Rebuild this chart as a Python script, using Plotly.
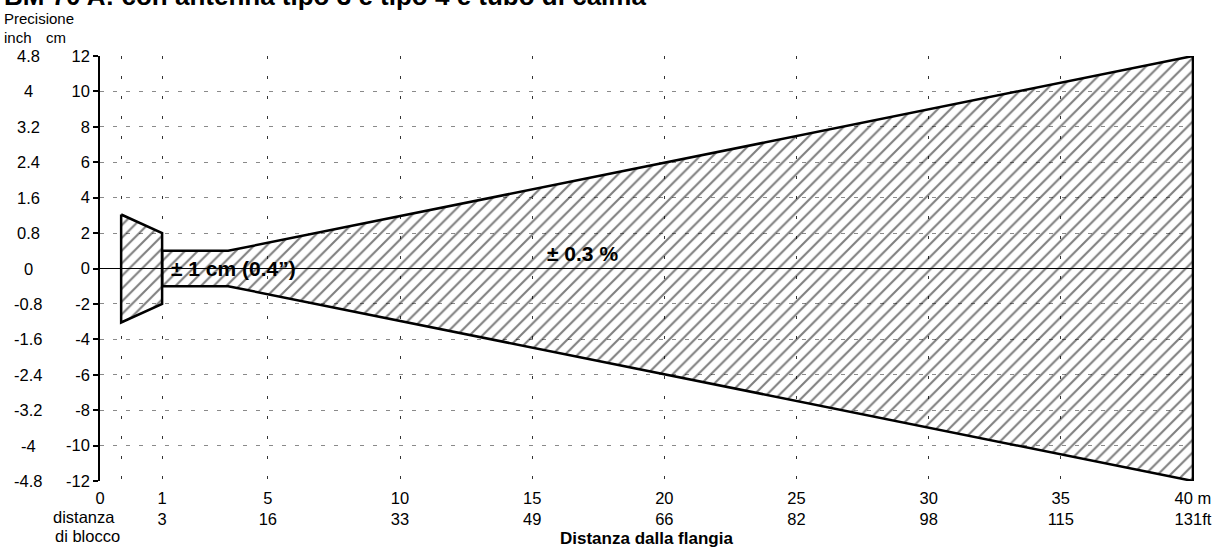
import plotly.graph_objects as go

# ---------------- data ----------------
# blocking zone trapezoid (drawn left of the 1 m mark)
block_x = [-0.55, 1.0]          # m (schematic position)
block_half = [3.05, 2.0]        # cm, half width of band

# accuracy envelope: +/-1 cm up to ~3.5 m, then +/-0.3 % of distance
prof_x = [1.0, 3.5, 40.0]       # m
prof_half = [1.0, 1.0, 12.0]    # cm

# axis ticks
x_tick_m = [1, 5, 10, 15, 20, 25, 30, 35, 40]
x_tick_ft = [3, 16, 33, 49, 66, 82, 98, 115, 131]
y_tick_cm = [12, 10, 8, 6, 4, 2, 0, -2, -4, -6, -8, -10, -12]
y_tick_inch = ["4.8", "4", "3.2", "2.4", "1.6", "0.8", "0", "-0.8", "-1.6", "-2.4", "-3.2", "-4", "-4.8"]

title_text = "BM 70 A: con antenna tipo 3 e tipo 4 e tubo di calma"
x_title = "Distanza dalla flangia"

# ---------------- layout constants ----------------
W, H = 1225, 548
ML, MR, MT, MB = 100, 31, 56, 67
X_RANGE = [-1.35, 40.04]
Y_RANGE = [-12, 12]
PW = W - ML - MR
PH = H - MT - MB
FONT = "Liberation Sans, Arial, sans-serif"
TICK_SIZE = 16.5
BOLD_SIZE = 21


def px_x(p):
    return (p - ML) / PW


def px_y(p):
    return (H - MB - p) / PH


fig = go.Figure()

pattern = dict(shape="/", fgcolor="black", bgcolor="rgba(0,0,0,0)", size=9, solidity=0.23)

# blocking zone polygon
bx = [block_x[0], block_x[1], block_x[1], block_x[0], block_x[0]]
by = [block_half[0], block_half[1], -block_half[1], -block_half[0], block_half[0]]
fig.add_trace(go.Scatter(x=bx, y=by, mode="lines", fill="toself",
                         fillcolor="rgba(0,0,0,0)", fillpattern=pattern,
                         line=dict(color="black", width=2.5), hoverinfo="skip",
                         showlegend=False))

# accuracy envelope polygon
ex = prof_x + prof_x[::-1] + [prof_x[0]]
ey = prof_half + [-v for v in prof_half[::-1]] + [prof_half[0]]
fig.add_trace(go.Scatter(x=ex, y=ey, mode="lines", fill="toself",
                         fillcolor="rgba(0,0,0,0)", fillpattern=pattern,
                         line=dict(color="black", width=2.5), hoverinfo="skip",
                         showlegend=False))

# x ticks
tickvals = [X_RANGE[0], block_x[0]] + x_tick_m
ticktext = ["0", ""]
for m, ft in zip(x_tick_m, x_tick_ft):
    if m == x_tick_m[-1]:
        ticktext.append(f"{m} m<br>{ft}ft")
    else:
        ticktext.append(f"{m}<br>{ft}")

annotations = [
    # page title (its upper part falls outside the page, as in the original)
    dict(x=px_x(2), xref="paper", y=px_y(-4), yref="paper", text=f"<b>{title_text}</b>",
         showarrow=False, xanchor="left", yanchor="middle",
         font=dict(size=26, color="black", family=FONT)),
    # x axis title
    dict(x=px_x(646), xref="paper", y=px_y(538), yref="paper", text=f"<b>{x_title}</b>",
         showarrow=False, xanchor="center", yanchor="middle",
         font=dict(size=17, color="black", family=FONT)),
]
# inch labels
for cm, inch in zip(y_tick_cm, y_tick_inch):
    annotations.append(dict(x=px_x(28), xref="paper", y=cm, yref="y", text=inch,
                            showarrow=False, xanchor="center", yanchor="middle",
                            font=dict(size=TICK_SIZE, color="black", family=FONT)))
annotations += [
    dict(x=px_x(2), xref="paper", y=px_y(18), yref="paper", text="Precisione",
         showarrow=False, xanchor="left", yanchor="middle",
         font=dict(size=15, color="black", family=FONT)),
    dict(x=px_x(2), xref="paper", y=px_y(37), yref="paper", text="inch",
         showarrow=False, xanchor="left", yanchor="middle",
         font=dict(size=15, color="black", family=FONT)),
    dict(x=px_x(44), xref="paper", y=px_y(37), yref="paper", text="cm",
         showarrow=False, xanchor="left", yanchor="middle",
         font=dict(size=15, color="black", family=FONT)),
    dict(x=px_x(51), xref="paper", y=px_y(517), yref="paper", text="distanza",
         showarrow=False, xanchor="left", yanchor="middle",
         font=dict(size=TICK_SIZE, color="black", family=FONT)),
    dict(x=px_x(53), xref="paper", y=px_y(536), yref="paper", text="di blocco",
         showarrow=False, xanchor="left", yanchor="middle",
         font=dict(size=TICK_SIZE, color="black", family=FONT)),
    dict(x=1.25, xref="x", y=0, yref="y", text="± 1 cm (0.4”)",
         showarrow=False, xanchor="left", yanchor="middle",
         font=dict(size=BOLD_SIZE, color="black", family=FONT, weight="bold")),
    dict(x=16.9, xref="x", y=0.85, yref="y", text="± 0.3 %",
         showarrow=False, xanchor="center", yanchor="middle",
         font=dict(size=BOLD_SIZE, color="black", family=FONT, weight="bold")),
]

fig.update_layout(
    width=W, height=H,
    margin=dict(l=ML, r=MR, t=MT, b=MB, pad=0, autoexpand=False),
    paper_bgcolor="white", plot_bgcolor="white",
    font=dict(family=FONT, color="black", size=TICK_SIZE),
    showlegend=False,
    annotations=annotations,
    xaxis=dict(range=X_RANGE, tickmode="array", tickvals=tickvals, ticktext=ticktext,
               showgrid=True, gridcolor="#333333", griddash="3px,17px", gridwidth=1,
               zeroline=False, showline=False, ticks="", ticklabelstandoff=5,
               automargin=False,
               tickfont=dict(size=TICK_SIZE, color="black", family=FONT),
               fixedrange=True),
    yaxis=dict(range=Y_RANGE, tickmode="array", tickvals=y_tick_cm,
               ticktext=[str(v) for v in y_tick_cm],
               showgrid=True, gridcolor="#8a8a8a", griddash="4px,9px", gridwidth=1,
               zeroline=True, zerolinecolor="black", zerolinewidth=1,
               showline=True, linecolor="black", linewidth=1.5,
               ticks="outside", ticklen=5, tickcolor="black", tickwidth=1.5,
               automargin=False,
               tickfont=dict(size=TICK_SIZE, color="black", family=FONT),
               fixedrange=True),
)

fig.write_html("out.html", config={"displayModeBar": False},
               post_script="document.body.style.margin='0px';document.body.style.overflow='hidden';")
